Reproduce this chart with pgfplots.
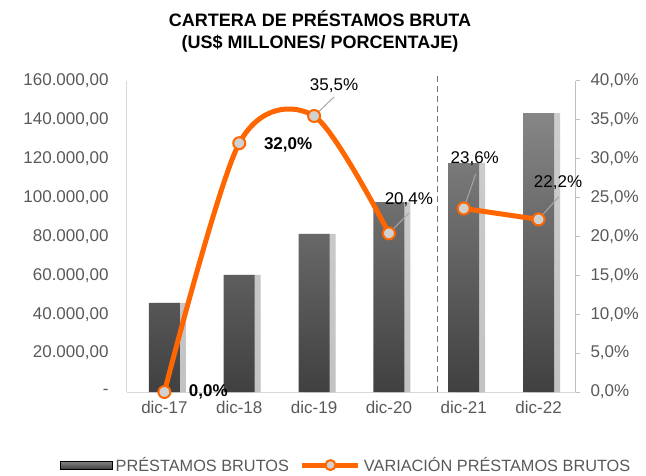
\documentclass[border=0pt]{standalone}
\usepackage{pgfplots}
\pgfplotsset{compat=1.18}
\usepackage{fontspec}
\setmainfont{Liberation Sans}
\usetikzlibrary{shadows}

\definecolor{naranja}{HTML}{FF6600}
\definecolor{txtgris}{HTML}{595959}
\definecolor{ejegris}{HTML}{D9D9D9}
\definecolor{barsup}{HTML}{868686}
\definecolor{barinf}{HTML}{404040}
\newcommand\fs{\fontsize{17bp}{20bp}\selectfont}

\begin{document}
\begin{tikzpicture}
\useasboundingbox (-127bp,-84bp) rectangle (519bp,392bp);
\pgfplotsset{base/.style={
    width=449bp, height=311bp, scale only axis,
    xmin=-0.5, xmax=5.5,
    /pgf/number format/assume math mode=true,
    tick label style={font=\fs, text=txtgris},
    scaled y ticks=false,
    clip=false}}

% barras: eje izquierdo
\begin{axis}[base,
    ymin=0, ymax=160000,
    axis y line*=left, axis x line*=bottom,
    axis line style={ejegris, line width=1bp},
    ytick={0,20000,...,160000},
    yticklabels={-,{20.000,00},{40.000,00},{60.000,00},{80.000,00},{100.000,00},{120.000,00},{140.000,00},{160.000,00}},
    yticklabel style={xshift=-15bp},
    xtick={0,...,5},
    xticklabels={dic-17,dic-18,dic-19,dic-20,dic-21,dic-22},
    xticklabel style={yshift=-6bp},
    major tick length=0pt]
\addplot[ybar, bar width=31bp, draw=none, top color=barsup, bottom color=barinf,
    drop shadow={shadow xshift=6bp, shadow yshift=0bp, opacity=0.15, fill=black}]
    coordinates {(0,45800) (1,60200) (2,81300) (3,97700) (4,117800) (5,143500)};
\draw[dashed, dash pattern=on 6bp off 4bp, color=black!55, line width=1.2bp]
    (axis cs:3.65,0) -- (axis cs:3.65,163000);
\end{axis}

% variacion: eje derecho
\begin{axis}[base,
    ymin=0, ymax=40,
    axis y line*=right, axis x line=none,
    axis line style={black!25, line width=1bp},
    ytick={0,5,...,40},
    yticklabels={{0,0\%},{5,0\%},{10,0\%},{15,0\%},{20,0\%},{25,0\%},{30,0\%},{35,0\%},{40,0\%}},
    yticklabel style={xshift=7bp},
    tick align=outside, major tick length=4bp,
    ytick style={black!25, line width=1bp},
    legend columns=2,
    legend style={draw=none, fill=none, font=\fontsize{16.3bp}{19bp}\selectfont, text=txtgris,
        at={(-0.149,-0.235)}, anchor=west, inner sep=0pt,
        /tikz/every even column/.append style={column sep=8bp},
        nodes={inner xsep=3bp}}]
\addlegendimage{legend image code/.code={
    \fill[top color=barsup, bottom color=barinf] (0bp,-4bp) rectangle (52bp,4bp);}}
\addlegendentry{PRÉSTAMOS BRUTOS}

% lineas guia de etiquetas
\draw[black!35, line width=1bp] (axis cs:2,35.5) -- (axis cs:2.267,37.94);
\draw[black!35, line width=1bp] (axis cs:3,20.4) -- (axis cs:3.267,23.02);
\draw[black!35, line width=1bp] (axis cs:4,23.6) -- (axis cs:4.16,28.04);
\draw[black!35, line width=1bp] (axis cs:5,22.2) -- (axis cs:5.267,25.08);

\addplot[naranja, line width=5bp, smooth, mark=*, mark size=6bp,
    mark options={fill=black!18, draw=naranja, line width=2bp},
    legend image code/.code={
      \draw[naranja, line width=5bp] (0bp,0bp) -- (56bp,0bp);
      \draw[fill=black!18, draw=naranja, line width=2bp] (28bp,0bp) circle (5bp);}]
    coordinates {(0,0) (1,32.0) (2,35.5) (3,20.4)};
\addlegendentry{VARIACIÓN PRÉSTAMOS BRUTOS}
\addplot[naranja, line width=5bp, smooth, mark=*, mark size=6bp,
    mark options={fill=black!18, draw=naranja, line width=2bp}, forget plot]
    coordinates {(4,23.6) (5,22.2)};

\node[font=\fs\bfseries] at (axis cs:0.587,0) {0,0\%};
\node[font=\fs\bfseries] at (axis cs:1.653,31.77) {32,0\%};
\node[font=\fs] at (axis cs:2.267,39.42) {35,5\%};
\node[font=\fs] at (axis cs:3.267,24.76) {20,4\%};
\node[font=\fs] at (axis cs:4.147,30.03) {23,6\%};
\node[font=\fs] at (axis cs:5.26,26.95) {22,2\%};
\end{axis}

\node[font=\fontsize{18bp}{22bp}\selectfont\bfseries, align=center] at (193bp,361bp)
    {CARTERA DE PRÉSTAMOS BRUTA\\(US\$ MILLONES/ PORCENTAJE)};
\end{tikzpicture}
\end{document}
